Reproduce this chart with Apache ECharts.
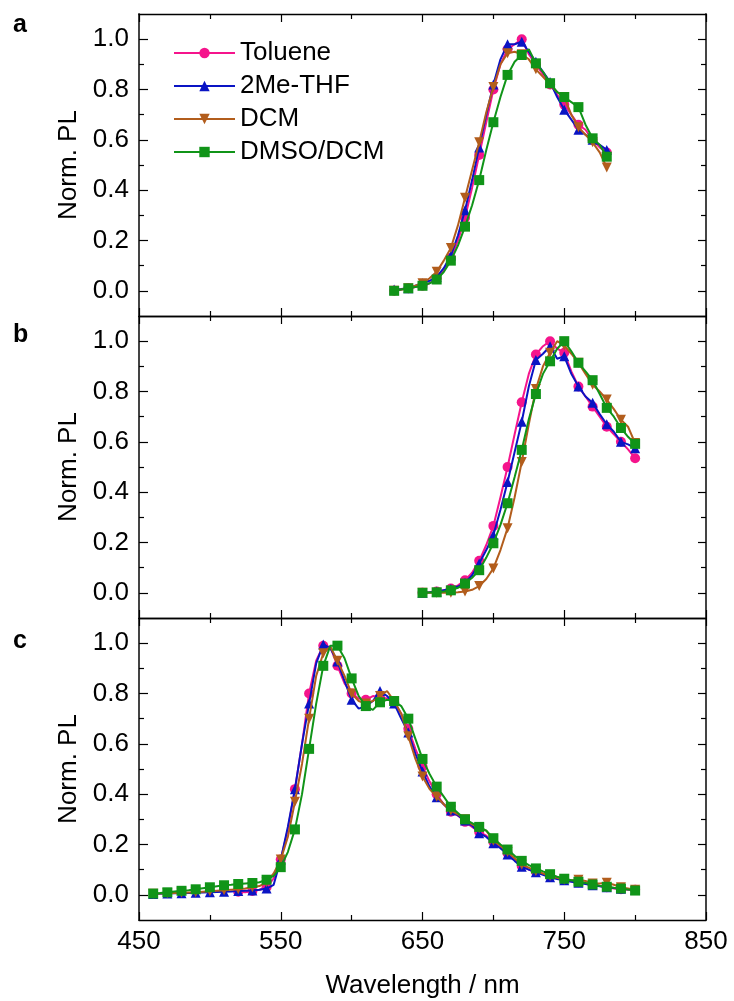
<!DOCTYPE html>
<html>
<head>
<meta charset="utf-8">
<script src="https://cdn.jsdelivr.net/npm/echarts@6/dist/echarts.min.js"></script>
<style>html,body{margin:0;padding:0;background:#fff}#main{width:734px;height:1001px}</style>
</head>
<body>
<div id="main"></div>
<script>
// ---------- data ----------
var seriesNames = ['Toluene', '2Me-THF', 'DCM', 'DMSO/DCM'];
var panelLabels = ['a', 'b', 'c'];
var xTickMajor = [450, 550, 650, 750, 850];
var xTickMinor = [500, 600, 700, 800];
var yTickMajor = [0, 0.2, 0.4, 0.6, 0.8, 1.0];
var yTickMinor = [0.1, 0.3, 0.5, 0.7, 0.9];

// panel a: wavelengths 630..780 step 5
var wlA = [630,635,640,645,650,655,660,665,670,675,680,685,690,695,700,705,710,715,720,725,730,735,740,745,750,755,760,765,770,775,780];
var aToluene = [0.00,0.005,0.01,0.015,0.02,0.03,0.05,0.08,0.13,0.20,0.29,0.41,0.54,0.67,0.80,0.90,0.96,0.98,1.00,0.94,0.90,0.86,0.82,0.78,0.74,0.70,0.66,0.64,0.60,0.57,0.55];
var aTHF     = [0.005,0.007,0.01,0.02,0.03,0.04,0.055,0.09,0.14,0.22,0.32,0.44,0.57,0.70,0.82,0.92,0.98,0.98,0.99,0.95,0.91,0.87,0.83,0.77,0.72,0.68,0.64,0.62,0.60,0.58,0.56];
var aDCM     = [0.00,0.005,0.01,0.02,0.03,0.05,0.076,0.12,0.17,0.26,0.37,0.48,0.59,0.71,0.81,0.90,0.944,0.95,0.94,0.92,0.88,0.85,0.82,0.79,0.77,0.70,0.65,0.62,0.59,0.55,0.49];
var aDMSO    = [0.00,0.005,0.01,0.015,0.02,0.03,0.045,0.075,0.12,0.18,0.255,0.34,0.44,0.56,0.67,0.77,0.858,0.91,0.937,0.96,0.904,0.87,0.825,0.79,0.77,0.75,0.73,0.66,0.606,0.58,0.533];

// panel b: wavelengths 650..800 step 5
var wlB = [650,655,660,665,670,675,680,685,690,695,700,705,710,715,720,725,730,735,740,745,750,755,760,765,770,775,780,785,790,795,800];
var bToluene = [0,0.002,0.005,0.01,0.017,0.03,0.05,0.08,0.127,0.19,0.266,0.38,0.50,0.63,0.757,0.87,0.947,0.98,1.00,0.97,0.954,0.88,0.82,0.78,0.74,0.70,0.66,0.63,0.60,0.57,0.535];
var bTHF     = [0,0.002,0.005,0.01,0.015,0.025,0.04,0.07,0.117,0.17,0.23,0.33,0.44,0.56,0.68,0.82,0.925,0.95,0.98,0.93,0.94,0.87,0.82,0.78,0.755,0.71,0.67,0.64,0.60,0.59,0.575];
var bDCM     = [0,0,0,0,0,0.002,0.005,0.012,0.027,0.055,0.097,0.17,0.257,0.38,0.52,0.67,0.81,0.90,0.954,1.00,0.983,0.95,0.914,0.87,0.827,0.80,0.768,0.73,0.688,0.66,0.595];
var bDMSO    = [0,0.001,0.002,0.005,0.01,0.02,0.037,0.06,0.09,0.14,0.197,0.27,0.356,0.46,0.568,0.69,0.79,0.87,0.92,0.97,1.00,0.96,0.914,0.88,0.845,0.79,0.735,0.70,0.655,0.62,0.592];

// panel c: wavelengths 460..800 step 5
var wlC = [460,465,470,475,480,485,490,495,500,505,510,515,520,525,530,535,540,545,550,555,560,565,570,575,580,585,590,595,600,605,610,615,620,625,630,635,640,645,650,655,660,665,670,675,680,685,690,695,700,705,710,715,720,725,730,735,740,745,750,755,760,765,770,775,780,785,790,795,800];
var cToluene = [null,null,null,null,null,null,null,null,null,null,null,null,0.012,0.01,0.015,0.02,0.03,0.065,0.14,0.26,0.42,0.60,0.80,0.93,0.99,0.985,0.91,0.84,0.80,0.78,0.775,0.79,0.785,0.78,0.765,0.72,0.66,0.58,0.51,0.45,0.40,0.36,0.33,0.315,0.29,0.27,0.25,0.235,0.21,0.19,0.165,0.14,0.115,0.10,0.092,0.083,0.074,0.066,0.06,0.054,0.05,0.045,0.04,0.035,0.03,0.025,0.022,0.02,0.02];
var cTHF     = [0.003,0.004,0.005,0.006,0.006,0.007,0.008,0.009,0.01,0.011,0.012,0.013,0.015,0.016,0.017,0.02,0.025,0.04,0.14,0.27,0.42,0.60,0.76,0.92,0.995,0.98,0.927,0.85,0.775,0.74,0.75,0.77,0.81,0.79,0.76,0.70,0.645,0.56,0.49,0.43,0.388,0.36,0.335,0.315,0.295,0.275,0.245,0.23,0.205,0.185,0.16,0.135,0.112,0.10,0.09,0.08,0.07,0.063,0.058,0.052,0.048,0.043,0.038,0.034,0.03,0.027,0.024,0.022,0.02];
var cDCM     = [0.004,0.005,0.006,0.007,0.008,0.009,0.01,0.012,0.014,0.016,0.018,0.02,0.022,0.025,0.03,0.035,0.05,0.085,0.14,0.23,0.37,0.52,0.70,0.87,0.96,0.986,0.93,0.87,0.80,0.77,0.76,0.77,0.79,0.81,0.77,0.72,0.63,0.54,0.47,0.42,0.39,0.36,0.335,0.32,0.30,0.28,0.265,0.255,0.215,0.195,0.17,0.145,0.12,0.108,0.095,0.085,0.075,0.068,0.06,0.058,0.06,0.055,0.045,0.045,0.048,0.04,0.03,0.025,0.02];
var cDMSO    = [0.005,0.007,0.01,0.013,0.016,0.018,0.022,0.026,0.03,0.034,0.038,0.04,0.043,0.045,0.047,0.05,0.06,0.075,0.11,0.17,0.26,0.40,0.58,0.76,0.91,0.99,0.99,0.94,0.86,0.79,0.75,0.735,0.765,0.775,0.77,0.75,0.70,0.62,0.54,0.48,0.43,0.39,0.35,0.325,0.30,0.285,0.27,0.255,0.225,0.20,0.18,0.155,0.135,0.118,0.105,0.093,0.082,0.072,0.064,0.058,0.052,0.047,0.041,0.036,0.032,0.028,0.025,0.021,0.017];

// ---------- styling / assembly ----------
var panelWl = [wlA, wlB, wlC];
var panelVals = [
  [aToluene, aTHF, aDCM, aDMSO],
  [bToluene, bTHF, bDCM, bDMSO],
  [cToluene, cTHF, cDCM, cDMSO]
];
var colors = ['#F5148C', '#0A14C4', '#B25D1C', '#109418'];
var symbols = ['circle', 'triangle', 'path://M0,0 L10,0 L5,10 Z', 'rect'];
var FONT = 'Liberation Sans, Arial, sans-serif';
var gridTops = [14, 316, 618];
var gridH = 302;
var labelY = [25, 335, 641];

var grids = [], xAxes = [], yAxes = [], series = [], graphics = [];
gridTops.forEach(function (top, g) {
  grids.push({ left: 139, right: 28, top: top, height: gridH, show: false });
  var last = g === 2;
  function xa(pos, vals, len, major) {
    return {
      type: 'value', gridIndex: g, position: pos, min: 450, max: 850,
      axisLine: { show: major, onZero: false, lineStyle: { color: '#000', width: 1.3 } },
      axisTick: { show: true, inside: true, length: len, customValues: vals, lineStyle: { color: '#000', width: 1.2 } },
      axisLabel: (pos === 'bottom' && major && last) ? {
        show: true, customValues: vals, fontSize: 26, color: '#000', fontFamily: FONT, margin: 9
      } : { show: false },
      splitLine: { show: false },
      name: (pos === 'bottom' && major && last) ? 'Wavelength / nm' : '',
      nameLocation: 'middle', nameGap: 53,
      nameTextStyle: { fontSize: 26, color: '#000', fontFamily: FONT }
    };
  }
  xAxes.push(xa('bottom', xTickMajor, 8, true));
  xAxes.push(xa('bottom', xTickMinor, 5, false));
  xAxes.push(xa('top', xTickMajor, 8, true));
  xAxes.push(xa('top', xTickMinor, 5, false));
  function ya(pos, vals, len, major) {
    return {
      type: 'value', gridIndex: g, position: pos, min: -0.1, max: 1.1,
      axisLine: { show: major, onZero: false, lineStyle: { color: '#444', width: 2 } },
      axisTick: { show: true, inside: true, length: len, customValues: vals, lineStyle: { color: '#000', width: 1.2 } },
      axisLabel: (pos === 'left' && major) ? {
        show: true, customValues: vals, fontSize: 26, color: '#000', fontFamily: FONT, margin: 10,
        formatter: function (v) { return (+v).toFixed(1); }
      } : { show: false },
      splitLine: { show: false },
      name: (pos === 'left' && major) ? 'Norm. PL' : '',
      nameLocation: 'middle', nameGap: 47,
      nameTextStyle: { fontSize: 26, color: '#000', fontFamily: FONT }
    };
  }
  yAxes.push(ya('left', yTickMajor, 9, true));
  yAxes.push(ya('left', yTickMinor, 5, false));
  yAxes.push(ya('right', yTickMajor, 8, true));
  yAxes.push(ya('right', yTickMinor, 5, false));

  seriesNames.forEach(function (nm, s) {
    var wl = panelWl[g], vals = panelVals[g][s];
    var data = [];
    wl.forEach(function (x, i) {
      if (vals[i] === null) return;
      data.push([x, vals[i]]);
    });
    series.push({
      type: 'line', name: nm, xAxisIndex: g * 4, yAxisIndex: g * 4,
      data: data, showAllSymbol: true, symbol: symbols[s],
      symbolSize: function (v, p) { return p.dataIndex % 2 === 0 ? 10 : 0; },
      itemStyle: { color: colors[s] },
      lineStyle: { color: colors[s], width: 2 },
      animation: false, z: 2 + s
    });
  });

  graphics.push({
    type: 'text', x: 13, y: labelY[g],
    style: { text: panelLabels[g], fontSize: 25, fontWeight: 'bold', fill: '#000', fontFamily: FONT,
             align: 'left', verticalAlign: 'middle' }
  });
});

var chart = echarts.init(document.getElementById('main'), null, { renderer: 'canvas' });
chart.setOption({
  animation: false,
  backgroundColor: '#fff',
  grid: grids,
  xAxis: xAxes,
  yAxis: yAxes,
  legend: {
    data: seriesNames, orient: 'vertical', left: 168, top: 35,
    itemWidth: 61, itemHeight: 13, itemGap: 7,
    textStyle: { fontSize: 26, color: '#000', fontFamily: FONT, padding: [0, 0, 0, 0] }
  },
  graphic: graphics,
  series: series
});
</script>
</body>
</html>
